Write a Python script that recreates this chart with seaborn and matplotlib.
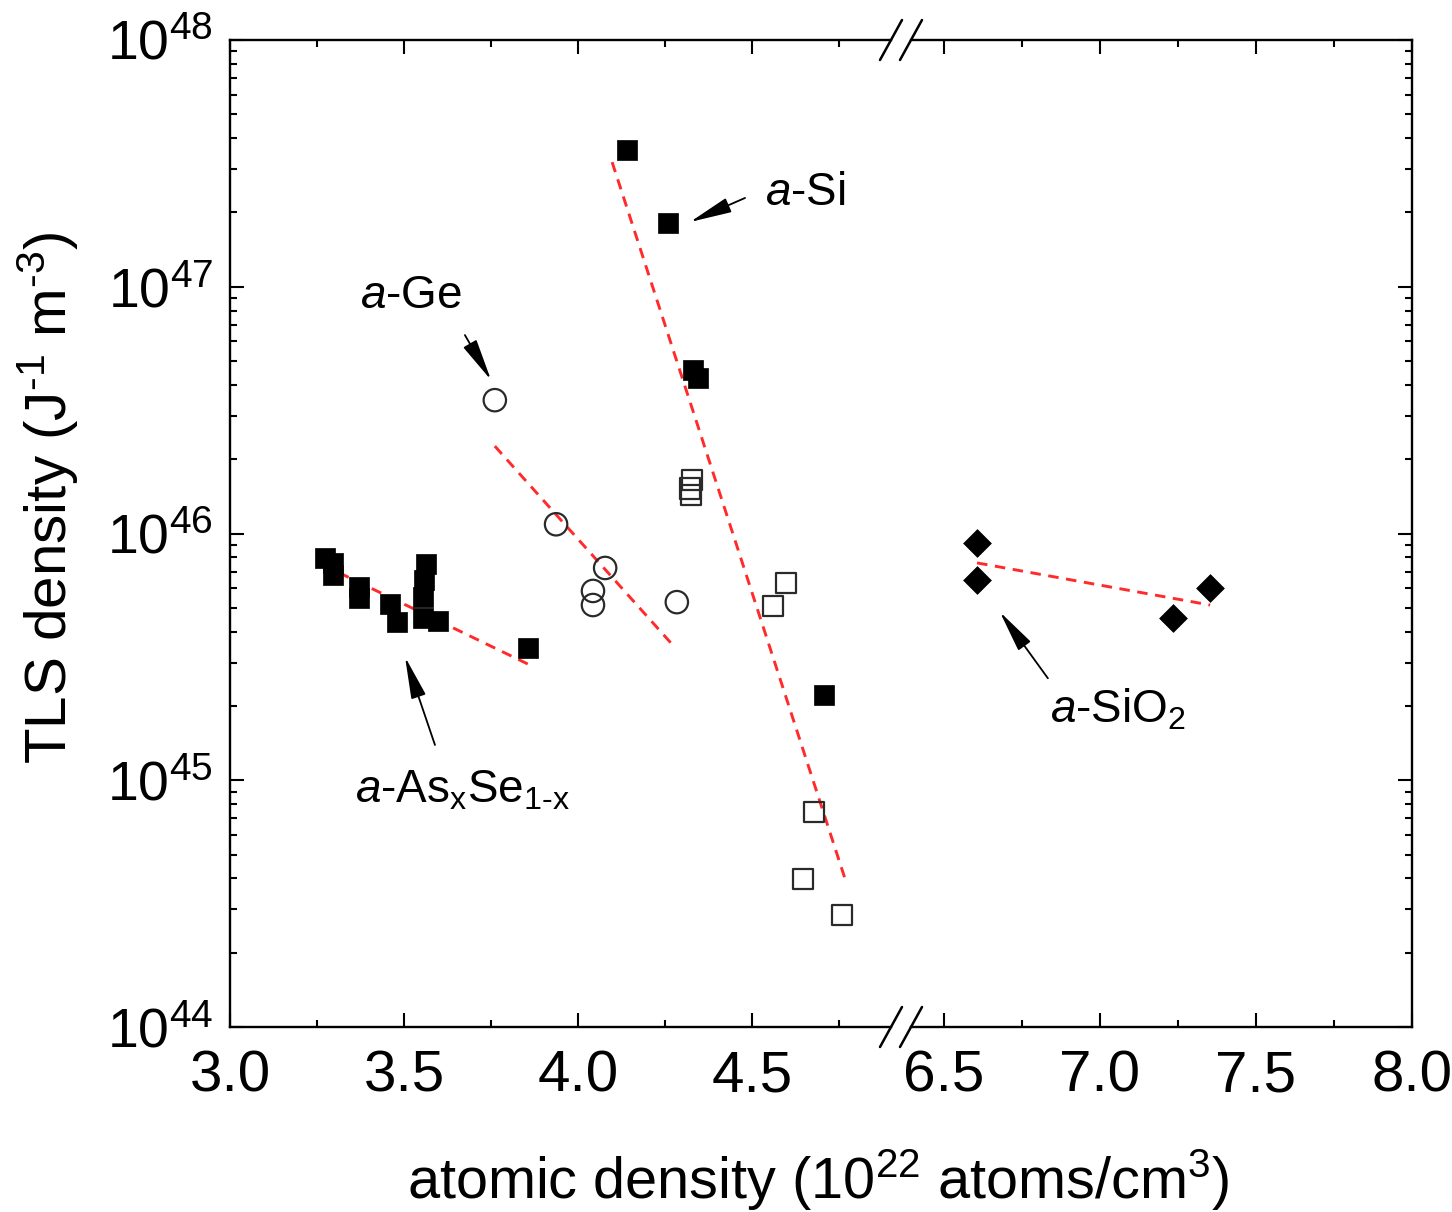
import numpy as np
import pandas as pd
import matplotlib
matplotlib.use("Agg")
import matplotlib.pyplot as plt
from matplotlib.ticker import MultipleLocator, LogLocator, LogFormatterSciNotation, NullFormatter, FormatStrFormatter
from matplotlib.lines import Line2D
import seaborn as sns

# ---------------- data ----------------
asse_x = [3.273, 3.296, 3.296, 3.371, 3.371, 3.46, 3.48, 3.563, 3.558, 3.555, 3.555, 3.598, 3.856]
asse_y = [7.96e45, 7.6e45, 6.8e45, 6.07e45, 5.48e45, 5.2e45, 4.38e45, 7.52e45, 6.48e45, 5.53e45, 4.55e45, 4.42e45, 3.44e45]

ge_x = [3.761, 3.937, 4.078, 4.043, 4.043, 4.284]
ge_y = [3.47e46, 1.09e46, 7.25e45, 5.85e45, 5.13e45, 5.27e45]

si_x = [4.141, 4.259, 4.330, 4.345, 4.707]
si_y = [3.58e47, 1.81e47, 4.6e46, 4.27e46, 2.22e45]

si_open_x = [4.327, 4.322, 4.325, 4.598, 4.560, 4.678, 4.647, 4.759]
si_open_y = [1.65e46, 1.52e46, 1.43e46, 6.3e45, 5.08e45, 7.44e44, 3.98e44, 2.84e44]

sio2_x = [6.606, 6.606, 7.234, 7.353]
sio2_y = [9.16e45, 6.48e45, 4.55e45, 6.0e45]

fit_asse_x, fit_asse_y = [3.267, 3.862], [7.46e45, 2.93e45]
fit_ge_x, fit_ge_y = [3.761, 4.267], [2.26e46, 3.6e45]
fit_si_x, fit_si_y = [4.098, 4.767], [3.2e47, 4.0e44]
fit_sio2_x, fit_sio2_y = [6.606, 7.353], [7.6e45, 5.13e45]

# ---------------- style ----------------
sns.set_style("ticks")
plt.rcParams["font.family"] = ["Liberation Sans", "DejaVu Sans"]
plt.rcParams["mathtext.fontset"] = "custom"
plt.rcParams["mathtext.rm"] = "Liberation Sans"
plt.rcParams["mathtext.it"] = "Liberation Sans:italic"
plt.rcParams["mathtext.bf"] = "Liberation Sans:bold"
for k in ("text.color", "axes.labelcolor", "xtick.color", "ytick.color", "axes.edgecolor"):
    plt.rcParams[k] = "black"

W, H = 1452, 1212
L, T, B = 230, 40, 1027
BRK1, BRK2, R = 891, 911, 1412
PX_L, PX_R = 348.0, 312.0

fig = plt.figure(figsize=(W / 100, H / 100), dpi=100)
axL = fig.add_axes([L / W, 1 - B / H, (BRK1 - L) / W, (B - T) / H])
axR = fig.add_axes([BRK2 / W, 1 - B / H, (R - BRK2) / W, (B - T) / H], sharey=axL)

red = "#ff2b2b"
ms_sq = 215
ms_circ = 260
ms_dia = 200

def fit(ax, x, y):
    sns.lineplot(x=x, y=y, ax=ax, color=red, lw=2.1, linestyle=(0, (3.6, 2.6)),
                 legend=False, zorder=2)

fit(axL, fit_asse_x, fit_asse_y)
fit(axL, fit_ge_x, fit_ge_y)
fit(axL, fit_si_x, fit_si_y)
fit(axR, fit_sio2_x, fit_sio2_y)

sns.scatterplot(x=asse_x, y=asse_y, ax=axL, marker="s", s=ms_sq, color="black",
                edgecolor="black", linewidth=0.5, zorder=3)
sns.scatterplot(x=si_x, y=si_y, ax=axL, marker="s", s=ms_sq, color="black",
                edgecolor="black", linewidth=0.5, zorder=3)
sns.scatterplot(x=ge_x, y=ge_y, ax=axL, marker="o", s=ms_circ, facecolor="none",
                edgecolor="#2a2a2a", linewidth=1.6, zorder=3)
sns.scatterplot(x=si_open_x, y=si_open_y, ax=axL, marker="s", s=ms_sq, facecolor="none",
                edgecolor="#2a2a2a", linewidth=1.6, zorder=3)
sns.scatterplot(x=sio2_x, y=sio2_y, ax=axR, marker="D", s=ms_dia, color="black",
                edgecolor="black", linewidth=0.5, zorder=3)

# ---------------- axes ----------------
for ax in (axL, axR):
    ax.set_yscale("log")
    ax.set_ylim(1e44, 1e48)
    ax.xaxis.set_major_locator(MultipleLocator(0.5))
    ax.xaxis.set_minor_locator(MultipleLocator(0.25))
    ax.yaxis.set_major_locator(LogLocator(base=10, numticks=10))
    ax.yaxis.set_minor_locator(LogLocator(base=10, subs=np.arange(2, 10), numticks=20))
    ax.yaxis.set_minor_formatter(NullFormatter())
    ax.tick_params(which="both", direction="in", top=True, bottom=True, width=1.5,
                   colors="black")
    ax.tick_params(axis="x", pad=16, labelsize=42)
    ax.tick_params(axis="y", pad=12, labelsize=40)
    ax.tick_params(which="major", length=10)
    ax.tick_params(which="minor", length=5)
    for s in ax.spines.values():
        s.set_linewidth(1.7)
        s.set_color("black")
    ax.set_xlabel("")
    ax.set_ylabel("")

axL.set_xlim(3.0, 3.0 + (BRK1 - L) / PX_L)
axR.set_xlim(8.0 - (R - BRK2) / PX_R, 8.0)
axL.yaxis.set_major_formatter(LogFormatterSciNotation())
axL.tick_params(axis="y", which="both", left=True, right=False)
axL.spines["right"].set_visible(False)
axR.tick_params(axis="y", which="both", left=False, right=True, labelleft=False, labelright=False)
axR.spines["left"].set_visible(False)
axL.xaxis.set_major_formatter(FormatStrFormatter("%.1f"))
axR.xaxis.set_major_formatter(FormatStrFormatter("%.1f"))

# break marks
for xc in (BRK1, BRK2):
    for yc in (T, B):
        fig.add_artist(Line2D([(xc - 11) / W, (xc + 11) / W],
                              [1 - (yc + 20) / H, 1 - (yc - 20) / H],
                              color="black", lw=1.8, transform=fig.transFigure))

# labels
fig.text(818 / W, 1 - 1180 / H, r"atomic density (10$^{22}$ atoms/cm$^{3}$)",
         ha="center", va="center", fontsize=41.5)
fig.text(48 / W, 1 - 498 / H, r"TLS density (J$^{\text{-}1}$ m$^{\text{-}3}$)",
         ha="center", va="center", rotation=90, fontsize=42)

# annotations
afs = 33
arrow = dict(arrowstyle="-|>,head_length=1.0,head_width=0.18", color="black", lw=1.3,
             shrinkA=0, shrinkB=0, mutation_scale=26)

axL.text(4.537, 2.14e47, r"$\mathit{a}$-Si", fontsize=afs, ha="left", va="baseline")
axL.annotate("", xy=(4.322, 1.83e47), xytext=(4.480, 2.29e47), arrowprops=arrow)

axL.text(3.374, 8.2e46, r"$\mathit{a}$-Ge", fontsize=afs, ha="left", va="baseline")
axL.annotate("", xy=(3.750, 4.19e46), xytext=(3.675, 6.37e46), arrowprops=arrow)

axL.text(3.359, 8.1e44, r"$\mathit{a}$-As$_{\mathrm{x}}$Se$_{\mathrm{1\text{-}x}}$",
         fontsize=afs, ha="left", va="baseline")
axL.annotate("", xy=(3.503, 3.16e45), xytext=(3.589, 1.39e45), arrowprops=arrow)

axR.text(6.840, 1.72e45, r"$\mathit{a}$-SiO$_{\mathrm{2}}$", fontsize=afs, ha="left", va="baseline")
axR.annotate("", xy=(6.679, 4.81e45), xytext=(6.833, 2.59e45), arrowprops=arrow)

fig.savefig("out.png", dpi=100)
